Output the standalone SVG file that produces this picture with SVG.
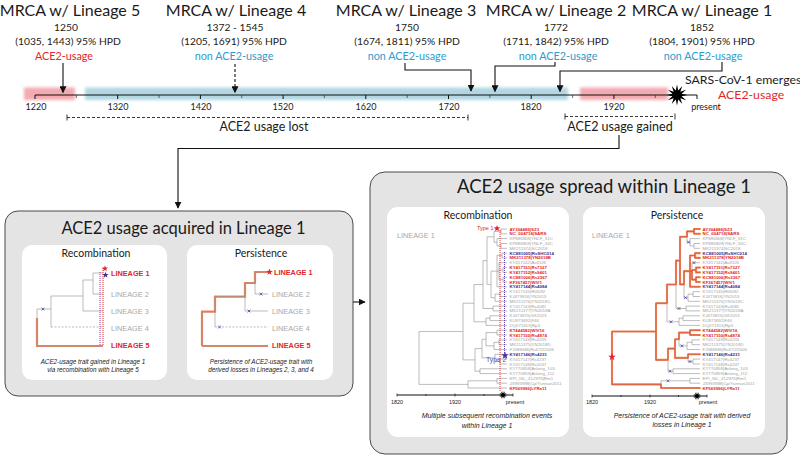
<svg xmlns="http://www.w3.org/2000/svg" xmlns:xlink="http://www.w3.org/1999/xlink" width="800" height="458" viewBox="0 0 800 458">
<style>
.s{font-family:Lato,"Open Sans","Liberation Sans",sans-serif;fill:#1a1a1a}
.hdr{font-size:16px;text-anchor:middle}
.d{font-size:10.3px;text-anchor:middle}
.u{font-size:10.8px;text-anchor:middle}
.red{fill:#e1262d}
.blue{fill:#2e9bcb}
.yr{font-size:9px;text-anchor:middle}
.br{font-size:12.5px;text-anchor:middle}
.ttl{text-anchor:middle}
.pt{font-size:10.5px;text-anchor:middle}
.a{font-family:"Liberation Sans",Arial,sans-serif}
.lin{font-size:7.3px;fill:#a8a8a8}
.linr{font-size:7.3px;fill:#e1262d;font-weight:bold}
.cap{font-style:italic;text-anchor:middle;fill:#222}
.tl{font-size:4.4px;fill:#a3a3a3}
.tr{font-size:4.4px;fill:#e2231a;font-weight:bold}
.tp{font-size:4.4px;fill:#3d2b8f;font-weight:bold}
.ax{font-size:5.5px;text-anchor:middle;fill:#222}
.ln{fill:none;stroke:#111;stroke-width:1.1}
.gt{fill:none;stroke:#8e8e8e;stroke-width:0.6}
.xm{fill:none;stroke:#4646a8;stroke-width:0.8}
.outer{fill:#e4e4e4;stroke:#4a4a4a;stroke-width:1}
.inner{fill:#ffffff}
</style>
<defs>
<marker id="ah" viewBox="0 0 10 10" refX="9" refY="5" markerWidth="7" markerHeight="7" orient="auto" markerUnits="userSpaceOnUse"><path d="M0,0L10,5L0,10z" fill="#111"/></marker>
<filter id="bl" x="-5%" y="-60%" width="110%" height="220%"><feGaussianBlur stdDeviation="1.6"/></filter>
<polygon id="burst" points="10,0 4.35,1.17 8.66,5 3.18,3.18 5,8.66 1.17,4.35 0,10 -1.17,4.35 -5,8.66 -3.18,3.18 -8.66,5 -4.35,1.17 -10,0 -4.35,-1.17 -8.66,-5 -3.18,-3.18 -5,-8.66 -1.17,-4.35 0,-10 1.17,-4.35 5,-8.66 3.18,-3.18 8.66,-5 4.35,-1.17"/>
<polygon id="star5" points="0,-1 0.235,-0.324 0.951,-0.309 0.38,0.124 0.588,0.809 0,0.4 -0.588,0.809 -0.38,0.124 -0.951,-0.309 -0.235,-0.324"/>
<path id="xmk" d="M-1.4,-1.4L1.4,1.4M-1.4,1.4L1.4,-1.4"/>
<path id="tree" d="M419,331.55V384.4M419,331.55H463M419,384.4H468M463,303.2V359.9M463,303.2H474M463,359.9H475M474,284.55V321.8M474,284.55H483M474,321.8H486M483,260.6V308.5M483,260.6H487M483,308.5H493M487,236.8V284.4M487,236.8H494M487,284.4H491M494,231.4V242.25M494,231.4H501M494,242.25H497M501,229V233.8M501,229H507M501,233.8H507M497,238.6V245.9M497,238.6H507M497,245.9H501M501,243.5V248.3M501,243.5H507M501,248.3H507M491,271.15V297.7M491,271.15H497M491,297.7H495M497,255.5V286.8M497,255.5H502M497,271.15H499M497,286.8H507M502,253.1V257.9M502,253.1H507M502,257.9H507M499,262.7V279.6M499,262.7H507M499,270H503M499,279.6H503M503,267.6V272.4M503,267.6H507M503,272.4H507M503,277.2V282M503,277.2H507M503,282H507M495,294.1V301.3M495,294.1H500M495,301.3H507M500,291.7V296.5M500,291.7H507M500,296.5H507M493,306.1V310.9M493,306.1H507M493,310.9H507M486,318.2V325.4M486,318.2H490M486,325.4H507M490,315.8V320.6M490,315.8H507M490,320.6H507M475,348.6V371.2M475,348.6H482M475,371.2H480M482,339.25V357.9M482,339.25H486M482,357.9H495M486,332.6V345.9M486,332.6H497M486,345.9H494M497,330.2V335M497,330.2H507M497,335H507M494,342.3V349.5M494,342.3H499M494,349.5H507M499,339.9V344.7M499,339.9H507M499,344.7H507M495,354.3V361.55M495,354.3H507M495,361.55H500M500,359.1V364M500,359.1H507M500,364H507M480,368.8V373.6M480,368.8H507M480,373.6H507M468,380.8V388M468,380.8H497M468,388H507M497,378.4V383.2M497,378.4H507M497,383.2H507"/>
<path id="otree" d="M419,331.55V384.4M419,331.55H463M419,384.4H468M463,303.2V359.9M463,303.2H474M463,359.9H475M474,284.55V303.2M474,284.55H483M483,260.6V284.55M483,260.6H487M487,236.8V284.4M487,236.8H494M487,284.4H491M494,231.4V236.8M494,231.4H501M501,229V233.8M501,229H507M501,233.8H507M491,271.15V284.4M491,271.15H497M497,255.5V286.8M497,255.5H502M497,271.15H499M497,286.8H507M502,253.1V257.9M502,253.1H507M502,257.9H507M499,270V279.6M499,270H503M499,279.6H503M503,267.6V272.4M503,267.6H507M503,272.4H507M503,277.2V282M503,277.2H507M503,282H507M475,348.6V359.9M475,348.6H482M482,339.25V357.9M482,339.25H486M482,357.9H495M486,332.6V339.25M486,332.6H497M497,330.2V335M497,330.2H507M497,335H507M495,354.3V357.9M495,354.3H507M468,384.4V388M468,388H507"/>
</defs>

<!-- timeline -->
<g id="timeline">
<rect x="24" y="87.5" width="51" height="12.5" fill="#f3aab1" filter="url(#bl)"/>
<rect x="85" y="87.5" width="483" height="12.5" fill="#b2d7e2" filter="url(#bl)"/>
<rect x="580" y="87.5" width="88" height="12.5" fill="#f3aab1" filter="url(#bl)"/>
<path class="ln" d="M35,95H697"/>
<path fill="none" stroke="#111" stroke-width="1" d="M35,95v4M117.7,95v4M200.4,95v4M283.1,95v4M365.8,95v4M448.5,95v4M531.2,95v4M613.9,95v4M697,95v4"/>
<path fill="none" stroke="#333" stroke-width="0.7" d="M76.35,95v3M159,95v3M241.7,95v3M324.4,95v3M407.2,95v3M489.9,95v3M572.6,95v3M655.3,95v3"/>
<g class="s yr">
<text x="36" y="110">1220</text><text x="118" y="110">1320</text><text x="201" y="110">1420</text><text x="283" y="110">1520</text><text x="366" y="110">1620</text><text x="449" y="110">1720</text><text x="531" y="110">1820</text><text x="614" y="110">1920</text><text x="706" y="110">present</text>
</g>
<use href="#burst" transform="translate(677,95) scale(1.05)" fill="#000"/>
<text class="s" x="685" y="84" font-size="12.3">SARS-CoV-1 emerges</text>
<text class="s red" x="718" y="99" font-size="12.3">ACE2-usage</text>
</g>

<g id="mrca5">
<text class="s hdr" x="70" y="16">MRCA w/ Lineage 5</text>
<text class="s d" x="66" y="31">1250</text>
<text class="s d" x="68" y="44.5">(1035, 1443) 95% HPD</text>
<text class="s u red" x="64" y="59.5">ACE2-usage</text>
</g>
<g id="mrca4">
<text class="s hdr" x="236" y="16">MRCA w/ Lineage 4</text>
<text class="s d" x="235" y="31">1372 - 1545</text>
<text class="s d" x="234" y="44.5">(1205, 1691) 95% HPD</text>
<text class="s u blue" x="234" y="59.5">non ACE2-usage</text>
</g>
<g id="mrca3">
<text class="s hdr" x="406" y="16">MRCA w/ Lineage 3</text>
<text class="s d" x="407" y="31">1750</text>
<text class="s d" x="407" y="44.5">(1674, 1811) 95% HPD</text>
<text class="s u blue" x="407" y="59.5">non ACE2-usage</text>
</g>
<g id="mrca2">
<text class="s hdr" x="556" y="16">MRCA w/ Lineage 2</text>
<text class="s d" x="556" y="31">1772</text>
<text class="s d" x="556" y="44.5">(1711, 1842) 95% HPD</text>
<text class="s u blue" x="558" y="59.5">non ACE2-usage</text>
</g>
<g id="mrca1">
<text class="s hdr" x="702" y="16">MRCA w/ Lineage 1</text>
<text class="s d" x="702" y="31">1852</text>
<text class="s d" x="702" y="44.5">(1804, 1901) 95% HPD</text>
<text class="s u blue" x="703" y="59.5">non ACE2-usage</text>
</g>

<g id="brackets">
<path fill="none" stroke="#222" stroke-width="0.9" stroke-dasharray="3,2" d="M67,117.5H468"/>
<path fill="none" stroke="#222" stroke-width="0.9" d="M67,114.5v6M468,114.5v6"/>
<text class="s br" x="264" y="131">ACE2 usage lost</text>
<path fill="none" stroke="#222" stroke-width="0.9" stroke-dasharray="3,2" d="M565,116.5H675"/>
<path fill="none" stroke="#222" stroke-width="0.9" d="M565,113.5v6M675,113.5v6"/>
<text class="s br" x="620" y="130.5">ACE2 usage gained</text>
</g>

<g id="connectors">
<path class="ln" d="M63,63V92.5" marker-end="url(#ah)"/>
<path class="ln" d="M235,64V92.5" stroke-dasharray="3,2" marker-end="url(#ah)"/>
<path class="ln" d="M405,63V70H471V91" marker-end="url(#ah)"/>
<path class="ln" d="M555,62V66H495V91.5" marker-end="url(#ah)"/>
<path class="ln" d="M722,62V71H560V91.5" marker-end="url(#ah)"/>
<path class="ln" d="M619,135V148.5H178V208" marker-end="url(#ah)"/>
<path class="ln" d="M338,302H365" marker-end="url(#ah)"/>
</g>

<!-- left panel -->
<g id="panel-acquired">
<rect class="outer" x="5" y="211" width="348" height="185" rx="13"/>
<text class="s ttl" x="183.5" y="233.5" font-size="16.5">ACE2 usage acquired in Lineage 1</text>
</g>
<g id="acq-recombination">
<rect class="inner" x="22" y="245" width="145" height="135" rx="10"/>
<text class="s pt" x="96" y="256.5">Recombination</text>
<path d="M37,318V346H103" fill="none" stroke="#f0845c" stroke-width="2.2"/>
<path class="gt" stroke-width="0.8" d="M37,309V346M37,309H51M51,296V327M51,296H83M83,280V311M83,311H103M83,280H93M93,273V294M93,273H103M93,294H103M37,346H103"/>
<path class="gt" stroke-width="0.8" stroke-dasharray="2,1.5" d="M51,327H103"/>
<use href="#xmk" class="xm" transform="translate(43,309)"/>
<path fill="none" stroke="#a0329c" stroke-width="1" stroke-dasharray="1,1" d="M100,272V346"/>
<path fill="none" stroke="#e1262d" stroke-width="1" stroke-dasharray="1,1" d="M103,268V346"/>
<use href="#star5" transform="translate(105,268.5) scale(3.3)" fill="#e1262d"/>
<use href="#star5" transform="translate(105.5,275) scale(3.3)" fill="#3d2b8f"/>
<text class="a linr" x="111" y="275.5">LINEAGE 1</text>
<text class="a lin" x="111" y="297">LINEAGE 2</text>
<text class="a lin" x="111" y="313.5">LINEAGE 3</text>
<text class="a lin" x="111" y="330.5">LINEAGE 4</text>
<text class="a linr" x="111" y="348">LINEAGE 5</text>
<text class="a cap" x="93" y="363.5" font-size="6.3">ACE2-usage trait gained in Lineage 1</text>
<text class="a cap" x="93" y="372" font-size="6.3">via recombination with Lineage 5</text>
</g>
<g id="acq-persistence">
<rect class="inner" x="187" y="245" width="146" height="135" rx="10"/>
<text class="s pt" x="261" y="256.5">Persistence</text>
<path d="M202,346V311.7H215V296.7H245V283H255V272H268M202,346H268" fill="none" stroke="#f0845c" stroke-width="2.2"/>
<path class="gt" stroke-width="0.8" d="M202,311.7V346M202,311.7H215M215,296.7V327M215,296.7H245M245,283V311M245,311H268M245,283H255M255,272V294M255,272H268M255,294H268M202,346H268"/>
<path class="gt" stroke-width="0.8" stroke-dasharray="2,1.5" d="M215,327H268"/>
<use href="#xmk" class="xm" transform="translate(261,294)"/>
<use href="#xmk" class="xm" transform="translate(249,311)"/>
<use href="#xmk" class="xm" transform="translate(219.5,327)"/>
<use href="#star5" transform="translate(269.5,272) scale(3.5)" fill="#e1262d"/>
<text class="a linr" x="274" y="275">LINEAGE 1</text>
<text class="a lin" x="272" y="297">LINEAGE 2</text>
<text class="a lin" x="272" y="313.5">LINEAGE 3</text>
<text class="a lin" x="272" y="330.5">LINEAGE 4</text>
<text class="a linr" x="272" y="348">LINEAGE 5</text>
<text class="a cap" x="261" y="363.5" font-size="6.3">Persistence of ACE2-usage trait with</text>
<text class="a cap" x="261" y="372" font-size="6.3">derived losses in Lineages 2, 3, and 4</text>
</g>

<!-- right panel -->
<g id="panel-spread">
<rect class="outer" x="370" y="172" width="417" height="282" rx="15"/>
<text class="s ttl" x="604" y="193" font-size="18.5">ACE2 usage spread within Lineage 1</text>
</g>

<g id="spread-recombination">
<rect class="inner" x="387" y="207" width="182" height="230" rx="11"/>
<text class="s pt" x="478" y="218.5">Recombination</text>
<text class="a lin" x="397" y="238" font-size="7.5">LINEAGE 1</text>
<use href="#tree" class="gt"/>
<path fill="none" stroke="#e1262d" stroke-width="0.9" stroke-dasharray="1,1" d="M500,230V391"/>
<path fill="none" stroke="#4a2fa0" stroke-width="0.9" stroke-dasharray="1,1" d="M504.5,252V356"/>
<use href="#star5" transform="translate(497,228.5) scale(3.5)" fill="#e1262d"/>
<text class="a" x="477" y="230" font-size="5.5" fill="#e1262d">Type 1</text>
<use href="#star5" transform="translate(505,355.5) scale(4)" fill="#4a2fa0"/>
<text class="a" x="486" y="362" font-size="6.8" fill="#5a4fb0">Type 2</text>
<g class="a">
<text class="tr" x="509.5" y="230.5">AY304486|SZ3</text>
<text class="tr" x="509.5" y="235.3">NC_004718|SARS</text>
<text class="tl" x="509.5" y="240.1">KP886808|YNLF_31C</text>
<text class="tl" x="509.5" y="245">KP886809|YNLF_34C</text>
<text class="tl" x="509.5" y="249.8">MK211374|SC2018</text>
<text class="tp" x="509.5" y="254.6">KC881005|RsSHC014</text>
<text class="tr" x="509.5" y="259.4">MK211378|YN2018B</text>
<text class="tl" x="509.5" y="264.2">KY417142|As6526</text>
<text class="tr" x="509.5" y="269.1">KY417151|Rs7327</text>
<text class="tr" x="509.5" y="273.9">KY417152|Rs9401</text>
<text class="tr" x="509.5" y="278.7">KC881006|Rs3367</text>
<text class="tr" x="509.5" y="283.5">KF367457|WIV1</text>
<text class="tp" x="509.5" y="288.3">KY417144|Rs4084</text>
<text class="tl" x="509.5" y="293.2">KY417145|Rf4092</text>
<text class="tl" x="509.5" y="298">KJ473816|YN2013</text>
<text class="tl" x="509.5" y="302.8">MK211376|YN2018C</text>
<text class="tl" x="509.5" y="307.6">KY417143|Rs4081</text>
<text class="tl" x="509.5" y="312.4">MK211377|YN2018A</text>
<text class="tl" x="509.5" y="317.3">KJ473815|GX2013</text>
<text class="tl" x="509.5" y="322.1">KU973692|F46</text>
<text class="tl" x="509.5" y="326.9">DQ071615|Rp3</text>
<text class="tr" x="509.5" y="331.7">KT444582|WIV16</text>
<text class="tr" x="509.5" y="336.5">KY417150|Rs4874</text>
<text class="tl" x="509.5" y="341.4">KY417149|Rs4255</text>
<text class="tl" x="509.5" y="346.2">MK211375|YN2018D</text>
<text class="tl" x="509.5" y="351">FJ588686|Rs672/2006</text>
<text class="tp" x="509.5" y="355.8">KY417146|Rs4231</text>
<text class="tl" x="509.5" y="360.6">KY417147|Rs4237</text>
<text class="tl" x="509.5" y="365.5">KY417148|Rs4247</text>
<text class="tl" x="509.5" y="370.3">KY770858|Anlong_103</text>
<text class="tl" x="509.5" y="375.1">KY770859|Anlong_112</text>
<text class="tl" x="509.5" y="379.9">EPI_ISL_412976|Rm1</text>
<text class="tl" x="509.5" y="384.7">JX993988|Cp/Yunnan2011</text>
<text class="tr" x="509.5" y="389.5">KF569996|LYRa11</text>
</g>
<path fill="none" stroke="#111" stroke-width="1.2" d="M397,395H513"/>
<path fill="none" stroke="#111" stroke-width="0.7" d="M397,393.5v3M426,394v2M455,393.5v3M484,394v2M513,393.5v3"/>
<use href="#burst" transform="translate(503,395) scale(0.42)" fill="#000"/>
<text class="a ax" x="397" y="403.5">1820</text>
<text class="a ax" x="455" y="403.5">1920</text>
<text class="a ax" x="515" y="403.5">present</text>
<text class="a cap" x="487" y="418" font-size="7">Multiple subsequent recombination events</text>
<text class="a cap" x="487" y="427.5" font-size="7">within Lineage 1</text>
</g>

<g id="spread-persistence">
<rect class="inner" x="583" y="207" width="182" height="230" rx="11"/>
<text class="s pt" x="677" y="218.5">Persistence</text>
<text class="a lin" x="592" y="238" font-size="7.5">LINEAGE 1</text>
<use href="#tree" class="gt" x="193"/>
<use href="#otree" x="193" fill="none" stroke="#f08a60" stroke-width="2.1" stroke-linecap="round"/>
<use href="#otree" x="193" fill="none" stroke="#d0432b" stroke-width="0.6"/>
<g class="xm">
<use href="#xmk" transform="translate(688.5,242.25)"/>
<use href="#xmk" transform="translate(694,262.7)"/>
<use href="#xmk" transform="translate(685.5,297.7)"/>
<use href="#xmk" transform="translate(679,308.5)"/>
<use href="#xmk" transform="translate(671,321.8)"/>
<use href="#xmk" transform="translate(682,345.9)"/>
<use href="#xmk" transform="translate(690,361.55)"/>
<use href="#xmk" transform="translate(670,371.2)"/>
<use href="#xmk" transform="translate(668,380.8)"/>
</g>
<use href="#star5" transform="translate(612,357) scale(4)" fill="#e1262d"/>
<g class="a">
<text class="tr" x="702.5" y="230.5">AY304486|SZ3</text>
<text class="tr" x="702.5" y="235.3">NC_004718|SARS</text>
<text class="tl" x="702.5" y="240.1">KP886808|YNLF_31C</text>
<text class="tl" x="702.5" y="245">KP886809|YNLF_34C</text>
<text class="tl" x="702.5" y="249.8">MK211374|SC2018</text>
<text class="tp" x="702.5" y="254.6">KC881005|RsSHC014</text>
<text class="tr" x="702.5" y="259.4">MK211378|YN2018B</text>
<text class="tl" x="702.5" y="264.2">KY417142|As6526</text>
<text class="tr" x="702.5" y="269.1">KY417151|Rs7327</text>
<text class="tr" x="702.5" y="273.9">KY417152|Rs9401</text>
<text class="tr" x="702.5" y="278.7">KC881006|Rs3367</text>
<text class="tr" x="702.5" y="283.5">KF367457|WIV1</text>
<text class="tp" x="702.5" y="288.3">KY417144|Rs4084</text>
<text class="tl" x="702.5" y="293.2">KY417145|Rf4092</text>
<text class="tl" x="702.5" y="298">KJ473816|YN2013</text>
<text class="tl" x="702.5" y="302.8">MK211376|YN2018C</text>
<text class="tl" x="702.5" y="307.6">KY417143|Rs4081</text>
<text class="tl" x="702.5" y="312.4">MK211377|YN2018A</text>
<text class="tl" x="702.5" y="317.3">KJ473815|GX2013</text>
<text class="tl" x="702.5" y="322.1">KU973692|F46</text>
<text class="tl" x="702.5" y="326.9">DQ071615|Rp3</text>
<text class="tr" x="702.5" y="331.7">KT444582|WIV16</text>
<text class="tr" x="702.5" y="336.5">KY417150|Rs4874</text>
<text class="tl" x="702.5" y="341.4">KY417149|Rs4255</text>
<text class="tl" x="702.5" y="346.2">MK211375|YN2018D</text>
<text class="tl" x="702.5" y="351">FJ588686|Rs672/2006</text>
<text class="tp" x="702.5" y="355.8">KY417146|Rs4231</text>
<text class="tl" x="702.5" y="360.6">KY417147|Rs4237</text>
<text class="tl" x="702.5" y="365.5">KY417148|Rs4247</text>
<text class="tl" x="702.5" y="370.3">KY770858|Anlong_103</text>
<text class="tl" x="702.5" y="375.1">KY770859|Anlong_112</text>
<text class="tl" x="702.5" y="379.9">EPI_ISL_412976|Rm1</text>
<text class="tl" x="702.5" y="384.7">JX993988|Cp/Yunnan2011</text>
<text class="tr" x="702.5" y="389.5">KF569996|LYRa11</text>
</g>
<path fill="none" stroke="#111" stroke-width="1.2" d="M592,396H707"/>
<path fill="none" stroke="#111" stroke-width="0.7" d="M592,394.5v3M621,395v2M650,394.5v3M678.5,395v2M707,394.5v3"/>
<use href="#burst" transform="translate(697,396) scale(0.42)" fill="#000"/>
<text class="a ax" x="592" y="404">1820</text>
<text class="a ax" x="650" y="404">1920</text>
<text class="a ax" x="708" y="404">present</text>
<text class="a cap" x="682" y="418" font-size="6.9">Persistence of ACE2-usage trait with derived</text>
<text class="a cap" x="682" y="427" font-size="6.9">losses in Lineage 1</text>
</g>
</svg>
